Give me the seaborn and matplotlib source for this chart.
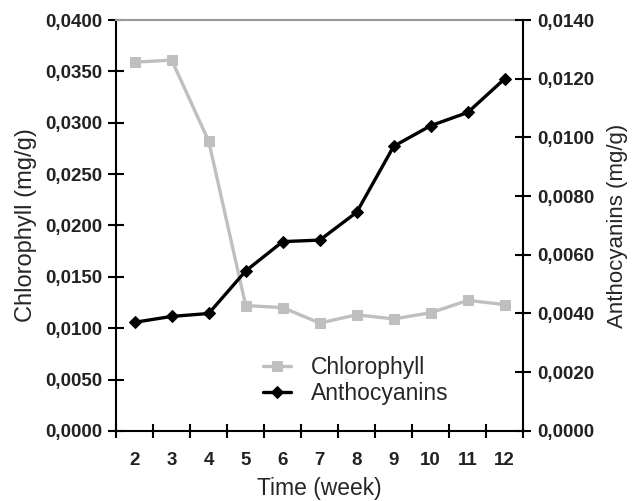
import matplotlib
matplotlib.use("Agg")
import matplotlib.pyplot as plt
import seaborn as sns
import pandas as pd
import numpy as np
from matplotlib.ticker import FuncFormatter, FixedLocator

weeks = [2, 3, 4, 5, 6, 7, 8, 9, 10, 11, 12]
chlorophyll = [0.0359, 0.0361, 0.0282, 0.0122, 0.0120, 0.0105, 0.0113, 0.0109, 0.0115, 0.0127, 0.0123]
anthocyanins = [0.0037, 0.0039, 0.0040, 0.00545, 0.00645, 0.0065, 0.00745, 0.0097, 0.01040, 0.01085, 0.0120]

sns.set_style("white")
plt.rcParams['font.family'] = ['Liberation Sans', 'DejaVu Sans']

df = pd.DataFrame({"week": weeks, "Chlorophyll": chlorophyll, "Anthocyanins": anthocyanins})

fig = plt.figure(figsize=(6.35, 5.01), dpi=100)
ax1 = fig.add_axes([0.183, 0.14, 0.641, 0.82])
ax2 = ax1.twinx()

gray = "#BFBFBF"
sns.lineplot(data=df, x="week", y="Chlorophyll", ax=ax1, color=gray, marker="s",
             markersize=6.5, markeredgecolor=gray, linewidth=2.4, label="Chlorophyll", legend=False)
sns.lineplot(data=df, x="week", y="Anthocyanins", ax=ax2, color="black", marker="D",
             markersize=6.5, markeredgecolor="black", linewidth=2.4, label="Anthocyanins", legend=False)

ax1.set_xlim(1.5, 12.5)
ax1.set_ylim(0, 0.04)
ax2.set_ylim(0, 0.014)
ax1.set_yticks(np.arange(0, 0.0401, 0.005))
ax2.set_yticks(np.arange(0, 0.01401, 0.002))

fmt = FuncFormatter(lambda v, p: f"{v:.4f}".replace(".", ","))
ax1.yaxis.set_major_formatter(fmt)
ax2.yaxis.set_major_formatter(fmt)

ax1.set_xticks(weeks)
ax1.set_xticklabels([str(w) for w in weeks])
ax1.xaxis.set_minor_locator(FixedLocator(np.arange(1.5, 12.6, 1)))
ax1.tick_params(axis="x", which="major", length=0, pad=15, labelsize=13.5)
ax1.tick_params(axis="x", which="minor", length=10, width=1.5, direction="inout", color="black", bottom=True)
ax1.tick_params(axis="y", which="major", length=12, width=1.5, direction="inout", labelsize=13.5, pad=4, color="black", left=True)
ax2.tick_params(axis="y", which="major", length=12, width=1.5, direction="inout", labelsize=13.5, pad=4, color="black", right=True)

for lab in ax1.get_xticklabels() + ax1.get_yticklabels() + ax2.get_yticklabels():
    lab.set_fontweight("bold")
    lab.set_color("#222222")

for ax in (ax1, ax2):
    for s in ax.spines.values():
        s.set_visible(False)
ax1.spines["left"].set_visible(True)
ax1.spines["left"].set_color("black")
ax1.spines["left"].set_linewidth(1.5)
ax1.spines["bottom"].set_visible(True)
ax1.spines["bottom"].set_color("black")
ax1.spines["bottom"].set_linewidth(1.5)
ax1.spines["top"].set_visible(True)
ax1.spines["top"].set_color("#999999")
ax1.spines["top"].set_linewidth(1.5)
ax2.spines["right"].set_visible(True)
ax2.spines["right"].set_color("black")
ax2.spines["right"].set_linewidth(1.5)

ax1.set_xlabel("Time (week)", fontsize=16.5, labelpad=6)
ax1.set_ylabel("Chlorophyll (mg/g)", fontsize=17, labelpad=6)
ax2.set_ylabel("Anthocyanins (mg/g)", fontsize=16, labelpad=9)
ax1.grid(False)
ax2.grid(False)

h1, l1 = ax1.get_legend_handles_labels()
h2, l2 = ax2.get_legend_handles_labels()
ax1.legend(h1 + h2, l1 + l2, loc="lower left", bbox_to_anchor=(0.31, 0.012), frameon=False,
           fontsize=16.5, handlelength=1.2, handletextpad=0.9, labelspacing=0.15)

fig.savefig("out.png", dpi=100)
